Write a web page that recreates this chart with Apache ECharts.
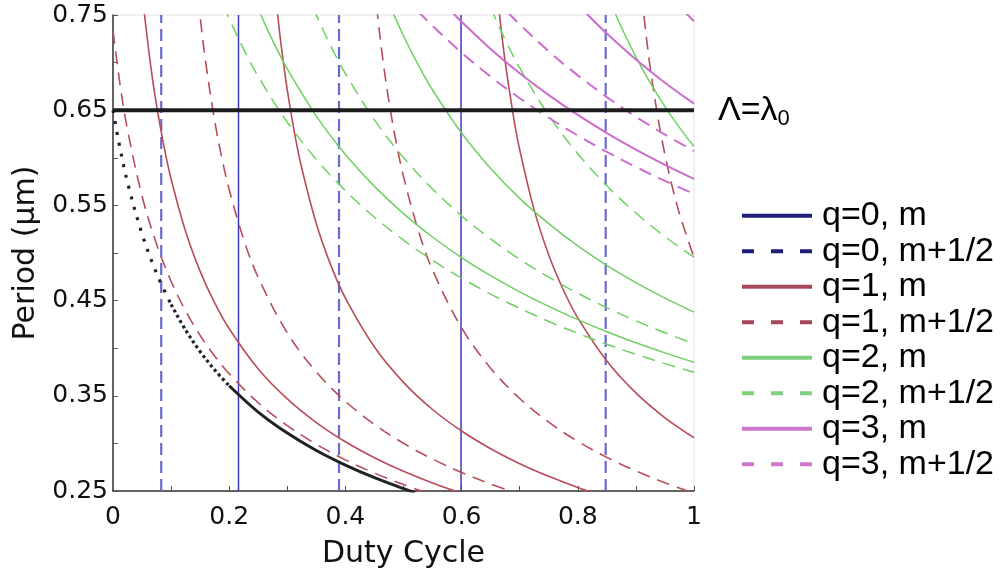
<!DOCTYPE html>
<html><head><meta charset="utf-8">
<script src="https://cdn.jsdelivr.net/npm/echarts@6/dist/echarts.min.js"></script>
<style>html,body{margin:0;padding:0;background:#fff}#c{width:1003px;height:577px}</style>
</head><body><div id="c"></div>
<script>
// ---- tick labels ----
const xTickLabels = ['0', '0.2', '0.4', '0.6', '0.8', '1'];
const yTickLabels = ['0.25', '0.35', '0.45', '0.55', '0.65', '0.75'];

// ---- q = 0 : vertical lines (duty cycle values) ----
const q0_m = [0.216, 0.599];
const q0_half = [0.083, 0.389, 0.848];

// ---- reference line Λ = λ0 ----
const lambda0 = 0.65;

// ---- black cut-off curve (duty, period) ----
const cutoffDotted = [[0,0.65],[0.01,0.6163],[0.025,0.5742],[0.05,0.52],[0.075,0.4787],[0.1,0.4459]];
const cutoffDense = [[0.1,0.4459],[0.125,0.419],[0.15,0.3965],[0.175,0.3772],[0.2,0.3606]];
const cutoffSolid = [[0.2,0.3606],[0.25,0.3329],[0.3,0.3108],[0.35,0.2925],[0.4,0.2772],[0.45,0.264],[0.5,0.2525],[0.52,0.2483]];

// ---- q = 1 ----
const q1_m_a = [[0.05,0.7751],[0.0543,0.7498],[0.065,0.6961],[0.075,0.6551],[0.0875,0.6128],[0.1,0.5778],[0.125,0.5226],[0.15,0.4807],[0.175,0.4475],[0.2,0.4204],[0.25,0.3782],[0.3,0.3467],[0.35,0.3219],[0.4,0.3017],[0.45,0.285],[0.5,0.2707],[0.55,0.2584],[0.6,0.2476]];
const q1_m_b = [[0.275,0.8022],[0.2834,0.7501],[0.29,0.7155],[0.3,0.6712],[0.3125,0.6259],[0.325,0.5887],[0.35,0.5307],[0.375,0.487],[0.4,0.4526],[0.45,0.4012],[0.5,0.3641],[0.55,0.3356],[0.6,0.313],[0.65,0.2944],[0.7,0.2787],[0.75,0.2654],[0.8,0.2537],[0.85,0.2435]];
const q1_m_c = [[0.66,0.7819],[0.6653,0.7502],[0.675,0.701],[0.69,0.6409],[0.7,0.6085],[0.725,0.545],[0.75,0.498],[0.775,0.4614],[0.8,0.4318],[0.85,0.3865],[0.9,0.353],[0.95,0.3269],[1.0,0.3059]];
const q1_h_a = [[0,0.7336],[0.0125,0.6755],[0.025,0.6294],[0.05,0.5599],[0.075,0.5093],[0.1,0.4703],[0.125,0.4391],[0.15,0.4134],[0.175,0.3917],[0.2,0.3731],[0.25,0.3427],[0.3,0.3187],[0.35,0.2991],[0.4,0.2827],[0.45,0.2688],[0.5,0.2567],[0.55,0.2462]];
const q1_h_b = [[0.14,0.8115],[0.15,0.7485],[0.16,0.6983],[0.175,0.6388],[0.1875,0.5994],[0.2,0.5665],[0.225,0.5142],[0.25,0.4742],[0.3,0.416],[0.35,0.375],[0.4,0.3442],[0.45,0.3199],[0.5,0.3001],[0.55,0.2836],[0.6,0.2695],[0.65,0.2574],[0.7,0.2467]];
const q1_h_c = [[0.45,0.7815],[0.4553,0.7499],[0.465,0.7007],[0.475,0.659],[0.4875,0.6159],[0.5,0.5804],[0.525,0.5246],[0.55,0.4822],[0.6,0.4214],[0.65,0.379],[0.7,0.3472],[0.75,0.3223],[0.8,0.3021],[0.85,0.2853],[0.9,0.271],[0.95,0.2586],[1.0,0.2478]];
const q1_h_d = [[0.91,0.771],[0.9136,0.7499],[0.925,0.6931],[0.94,0.6348],[0.95,0.6033],[0.9625,0.5698],[0.975,0.5413],[1.0,0.4951]];

// ---- q = 2 ----
const q2_m_a = [[0.25,0.7564],[0.2546,0.7499],[0.26,0.7425],[0.275,0.7228],[0.3,0.6934],[0.35,0.6438],[0.4,0.6034],[0.45,0.57],[0.5,0.5414],[0.55,0.5168],[0.6,0.4952],[0.65,0.4762],[0.7,0.4592],[0.75,0.4439],[0.8,0.43],[0.85,0.4173],[0.9,0.4057],[0.95,0.3951],[1.0,0.3852]];
const q2_m_b = [[0.48,0.7553],[0.4837,0.75],[0.5,0.7282],[0.525,0.698],[0.55,0.6712],[0.6,0.626],[0.65,0.5888],[0.7,0.5574],[0.75,0.5308],[0.8,0.5074],[0.85,0.487],[0.9,0.4689],[0.95,0.4526],[1.0,0.4379]];
const q2_m_c = [[0.86,0.758],[0.8656,0.75],[0.875,0.7372],[0.9,0.706],[0.925,0.6784],[0.95,0.6538],[0.975,0.6317],[1.0,0.6118]];
const q2_h_a = [[0.19,0.7604],[0.1973,0.75],[0.2,0.7462],[0.225,0.7139],[0.25,0.6854],[0.3,0.6374],[0.35,0.5982],[0.4,0.5655],[0.45,0.5376],[0.5,0.5135],[0.55,0.4923],[0.6,0.4736],[0.65,0.4568],[0.7,0.4418],[0.75,0.4281],[0.8,0.4156],[0.85,0.4041],[0.9,0.3936],[0.95,0.3838],[1.0,0.3747]];
const q2_h_b = [[0.345,0.7572],[0.35,0.7501],[0.36,0.7364],[0.375,0.7172],[0.4,0.6884],[0.45,0.6398],[0.5,0.6002],[0.55,0.5672],[0.6,0.539],[0.65,0.5148],[0.7,0.4934],[0.75,0.4746],[0.8,0.4577],[0.85,0.4426],[0.9,0.4288],[0.95,0.4162],[1.0,0.4047]];
const q2_h_c = [[0.65,0.758],[0.6556,0.75],[0.675,0.7241],[0.7,0.6944],[0.75,0.6446],[0.8,0.6042],[0.85,0.5706],[0.9,0.542],[0.95,0.5172],[1.0,0.4956]];

// ---- q = 3 ----
const q3_m_a = [[0.58,0.7553],[0.5884,0.75],[0.6,0.7429],[0.65,0.7143],[0.7,0.6888],[0.75,0.6658],[0.8,0.645],[0.85,0.626],[0.9,0.6086],[0.95,0.5926],[1.0,0.5778]];
const q3_m_b = [[0.81,0.7547],[0.8175,0.75],[0.85,0.7305],[0.9,0.7033],[0.95,0.6789],[1.0,0.6569]];
const q3_h_a = [[0.525,0.7538],[0.5311,0.75],[0.55,0.7385],[0.6,0.7104],[0.65,0.6853],[0.7,0.6626],[0.75,0.6421],[0.8,0.6234],[0.85,0.6062],[0.9,0.5904],[0.95,0.5757],[1.0,0.5621]];
const q3_h_b = [[0.68,0.7524],[0.6839,0.75],[0.7,0.7401],[0.75,0.7118],[0.8,0.6866],[0.85,0.6638],[0.9,0.6432],[0.95,0.6244],[1.0,0.6071]];
const q3_h_c = [[0.985,0.7528],[0.9894,0.75],[1.0,0.7435]];

// ---- legend names ----
const names = ['q=0, m', 'q=0, m+1/2', 'q=1, m', 'q=1, m+1/2', 'q=2, m', 'q=2, m+1/2', 'q=3, m', 'q=3, m+1/2'];

const DASH = [13, 8];
function curve(name, data, color, width, dashed) {
  return {
    name: name, type: 'line', data: data, symbol: 'none', showSymbol: false,
    smooth: 0.35, clip: true, silent: true, z: 2,
    lineStyle: { color: color, width: width, type: dashed ? DASH : 'solid' }
  };
}
function vline(name, x, color, width, dash) {
  return {
    name: name, type: 'line', data: [[x, 0.25], [x, 0.75]], symbol: 'none', showSymbol: false,
    silent: true, z: 1, lineStyle: { color: color, width: width, type: dash }
  };
}

const RED = '#b84c58', GREEN = '#6fd062', MAG = '#cc6ccc';
const series = [];
q0_m.forEach(x => series.push(vline(names[0], x, '#3a3ab4', 1.5, 'solid')));
q0_half.forEach(x => series.push(vline(names[1], x, '#6a6acc', 2.2, [12, 6])));
[q1_m_a, q1_m_b, q1_m_c].forEach(d => series.push(curve(names[2], d, RED, 1.6, false)));
[q1_h_a, q1_h_b, q1_h_c, q1_h_d].forEach(d => series.push(curve(names[3], d, RED, 1.6, true)));
[q2_m_a, q2_m_b, q2_m_c].forEach(d => series.push(curve(names[4], d, GREEN, 1.5, false)));
[q2_h_a, q2_h_b, q2_h_c].forEach(d => series.push(curve(names[5], d, GREEN, 1.5, true)));
[q3_m_a, q3_m_b].forEach(d => series.push(curve(names[6], d, MAG, 2, false)));
[q3_h_a, q3_h_b, q3_h_c].forEach(d => series.push(curve(names[7], d, MAG, 2, true)));

// black cut-off curve
series.push(Object.assign(curve('cutoff', cutoffDotted, '#222', 3, false), { z: 3, lineStyle: { color: '#222', width: 3.2, type: [3, 8] } }));
series.push(Object.assign(curve('cutoff', cutoffDense, '#222', 3, false), { z: 3, lineStyle: { color: '#222', width: 3.2, type: [3, 3] } }));
series.push(Object.assign(curve('cutoff', cutoffSolid, '#222', 3, false), { z: 3 }));

// Λ = λ0 line
series.push({
  name: 'lambda0', type: 'line', data: [[0, lambda0], [1, lambda0]], symbol: 'none', showSymbol: false,
  silent: true, z: 5, lineStyle: { color: '#1c1c1c', width: 4 },
  endLabel: {
    show: true, distance: 24, formatter: '{a|Λ=λ}{s|0}',
    rich: {
      a: { fontFamily: 'Liberation Sans', fontSize: 34, color: '#000', lineHeight: 40 },
      s: { fontFamily: 'Liberation Sans', fontSize: 22, color: '#000', lineHeight: 20, verticalAlign: 'bottom' }
    }
  }
});

const legendColors = ['#1f1f7a', '#1f1f7a', '#a6485c', '#a6485c', '#7fcf7f', '#7fcf7f', '#cc77cc', '#cc77cc'];
const legendData = names.map((n, i) => ({
  name: n,
  lineStyle: { color: legendColors[i], width: 4, type: i % 2 ? [12, 17] : 'solid' },
  itemStyle: { opacity: 0 }
}));

const axisFont = 'DejaVu Sans';
const option = {
  animation: false,
  backgroundColor: '#fff',
  grid: { left: 113, right: 309, top: 15, bottom: 86, show: true, borderColor: '#e2e2e2', borderWidth: 1, containLabel: false },
  xAxis: {
    type: 'value', min: 0, max: 1, interval: 0.1,
    name: 'Duty Cycle', nameLocation: 'middle', nameGap: 48,
    nameTextStyle: { fontFamily: axisFont, fontSize: 30, color: '#111' },
    axisLine: { show: true, onZero: false, lineStyle: { color: '#333', width: 1.5 } },
    axisTick: { show: true, inside: true, length: 5, lineStyle: { color: '#555' } },
    splitLine: { show: false },
    axisLabel: {
      fontFamily: axisFont, fontSize: 25, color: '#111', margin: 14,
      formatter: v => { const k = Math.round(v * 10); return k % 2 === 0 ? xTickLabels[k / 2] : ''; }
    }
  },
  yAxis: {
    type: 'value', min: 0.25, max: 0.75, interval: 0.05,
    name: 'Period (μm)', nameLocation: 'middle', nameGap: 69,
    nameTextStyle: { fontFamily: axisFont, fontSize: 30, color: '#111' },
    axisLine: { show: true, onZero: false, lineStyle: { color: '#333', width: 1.5 } },
    axisTick: { show: true, inside: true, length: 5, lineStyle: { color: '#555' } },
    splitLine: { show: false },
    axisLabel: {
      fontFamily: axisFont, fontSize: 25, color: '#111', margin: 5,
      formatter: v => { const k = Math.round((v - 0.25) / 0.05); return k % 2 === 0 ? yTickLabels[k / 2] : ''; }
    }
  },
  legend: {
    orient: 'vertical', left: 740, top: 198, itemWidth: 70, itemHeight: 14, itemGap: 0,
    selectedMode: false, padding: 0,
    textStyle: { fontFamily: 'Liberation Sans', fontSize: 34, color: '#000', lineHeight: 35.5, padding: [0, 0, 0, 5] },
    data: legendData
  },
  series: series
};
const chart = echarts.init(document.getElementById('c'));
chart.setOption(option);
</script>
</body></html>
